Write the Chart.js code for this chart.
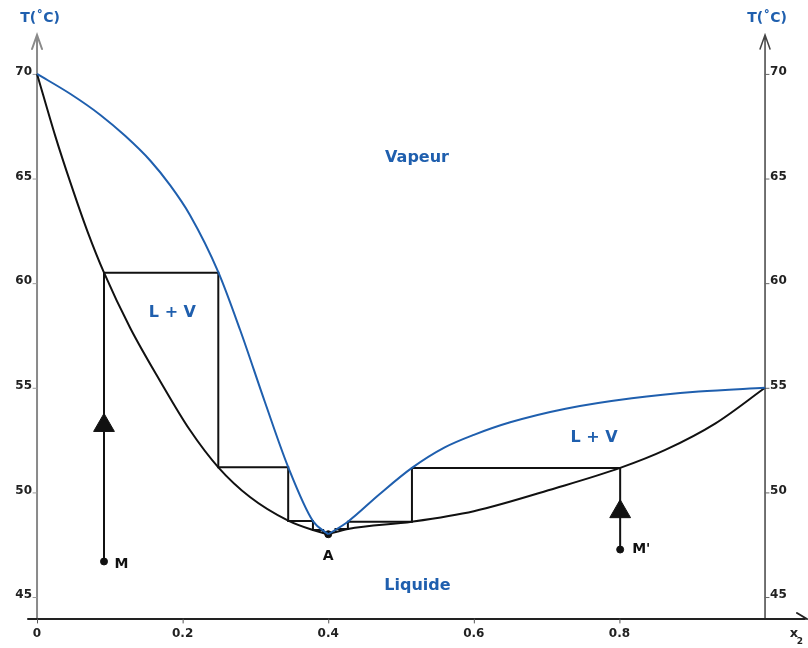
<!DOCTYPE html>
<html>
<head>
<meta charset="utf-8">
<script src="https://cdn.jsdelivr.net/npm/chart.js@4.4.0/dist/chart.umd.min.js"></script>
<style>
    body { margin: 0; background: #fff; overflow: hidden; }
    #wrap { width: 808px; height: 648px; }
    canvas { display: block; }
</style>
</head>
<body>
<div id="wrap"><canvas id="myChart" width="808" height="648"></canvas></div>
<script>
// curves: [x2, T]
const vapourLeft = [[0, 70], [0.046, 69.04], [0.087, 68.04], [0.121, 67.04], [0.156, 65.84], [0.183, 64.67], [0.21, 63.26], [0.249, 60.53], [0.279, 57.76], [0.313, 54.32], [0.345, 51.21], [0.379, 48.63], [0.4, 48]];
const vapourRight = [[0.4, 48], [0.427, 48.6], [0.47, 49.9], [0.515, 51.17], [0.56, 52.15], [0.6, 52.75], [0.65, 53.35], [0.726, 54.0], [0.817, 54.5], [0.909, 54.82], [1, 55]];
const liquidLeft = [[0, 70], [0.025, 67.04], [0.046, 64.79], [0.069, 62.5], [0.092, 60.5], [0.128, 57.86], [0.169, 55.33], [0.21, 52.98], [0.249, 51.2], [0.2925, 49.78], [0.345, 48.65], [0.379, 48.2], [0.4, 48]];
const liquidRight = [[0.4, 48], [0.427, 48.25], [0.515, 48.6], [0.6, 49.1], [0.712, 50.2], [0.801, 51.17], [0.863, 52.03], [0.932, 53.3], [1, 55]];

// distillation steps starting from M and M'
const stepsLeft = [[0.092, 46.7], [0.092, 60.5], [0.249, 60.5], [0.249, 51.2], [0.345, 51.2], [0.345, 48.63], [0.379, 48.63], [0.379, 48.2], [0.393, 48.2], [0.393, 48.05]];
const stepsRight = [[0.801, 47.27], [0.801, 51.17], [0.515, 51.17], [0.515, 48.6], [0.427, 48.6], [0.427, 48.25], [0.41, 48.25], [0.41, 48.08]];

const dots = [[0.092, 46.7], [0.801, 47.27], [0.4, 48]];
const arrows = [[0.092, 53.2], [0.801, 49.08]];

const xTicks = [0, 0.2, 0.4, 0.6, 0.8];
const yTicks = [45, 50, 55, 60, 65, 70];

const blue = '#1f5fae';

function pts(arr) {
    return arr.map(p => ({ x: p[0], y: p[1] }));
}

function curve(arr, color) {
    return {
        data: pts(arr),
        showLine: true,
        borderColor: color,
        borderWidth: 2,
        pointRadius: 0,
        cubicInterpolationMode: 'monotone'
    };
}

function steps(arr) {
    return {
        data: pts(arr),
        showLine: true,
        borderColor: '#111',
        borderWidth: 2,
        pointRadius: 0,
        tension: 0
    };
}

function text(ctx, str, x, y, font, color, align) {
    ctx.font = font;
    ctx.fillStyle = color;
    ctx.textAlign = align || 'center';
    ctx.textBaseline = 'middle';
    ctx.fillText(str, x, y);
}

const axesPlugin = {
    id: 'axes',
    beforeDatasetsDraw(chart) {
        const ctx = chart.ctx;
        const xs = chart.scales.x;
        const ys = chart.scales.y;
        const area = chart.chartArea;
        const x0 = xs.getPixelForValue(0);
        const x1 = xs.getPixelForValue(1);
        const yb = area.bottom;

        ctx.save();
        ctx.lineCap = 'round';

        // left axis (grey)
        ctx.strokeStyle = '#8a8a8a';
        ctx.lineWidth = 2;
        ctx.beginPath();
        ctx.moveTo(x0, yb);
        ctx.lineTo(x0, area.top);
        ctx.moveTo(x0 - 5, area.top + 14);
        ctx.lineTo(x0, area.top);
        ctx.lineTo(x0 + 5, area.top + 14);
        ctx.stroke();

        // right axis
        ctx.strokeStyle = '#444';
        ctx.lineWidth = 1.5;
        ctx.beginPath();
        ctx.moveTo(x1, yb);
        ctx.lineTo(x1, area.top);
        ctx.moveTo(x1 - 5, area.top + 14);
        ctx.lineTo(x1, area.top);
        ctx.lineTo(x1 + 5, area.top + 14);
        ctx.stroke();

        // x axis
        ctx.strokeStyle = '#222';
        ctx.lineWidth = 2;
        ctx.beginPath();
        ctx.moveTo(area.left, yb);
        ctx.lineTo(area.right, yb);
        ctx.moveTo(area.right - 8, yb - 6);
        ctx.lineTo(area.right + 2, yb);
        ctx.stroke();

        // y ticks and labels
        ctx.lineWidth = 1;
        yTicks.forEach(v => {
            const py = ys.getPixelForValue(v);
            ctx.strokeStyle = '#999';
            ctx.beginPath();
            ctx.moveTo(x0 - 4, py + 0.5);
            ctx.lineTo(x0, py + 0.5);
            ctx.stroke();
            ctx.strokeStyle = '#666';
            ctx.beginPath();
            ctx.moveTo(x1, py + 0.5);
            ctx.lineTo(x1 + 4, py + 0.5);
            ctx.stroke();
            text(ctx, String(v), x0 - 5, py - 2, 'bold 12px "DejaVu Sans"', '#222', 'right');
            text(ctx, String(v), x1 + 5, py - 2, 'bold 12px "DejaVu Sans"', '#222', 'left');
        });

        // x ticks and labels
        xTicks.forEach(v => {
            const px = xs.getPixelForValue(v);
            ctx.strokeStyle = '#555';
            ctx.beginPath();
            ctx.moveTo(px + 0.5, yb);
            ctx.lineTo(px + 0.5, yb + 4);
            ctx.stroke();
            text(ctx, String(v), px, yb + 15, 'bold 12px "DejaVu Sans"', '#222');
        });
        ctx.restore();
    },
    afterDraw(chart) {
        const ctx = chart.ctx;
        const xs = chart.scales.x;
        const ys = chart.scales.y;
        ctx.save();
        const x0 = xs.getPixelForValue(0);
        const x1 = xs.getPixelForValue(1);
        text(ctx, 'T(˚C)', x0 + 3, 18, 'bold 14px "DejaVu Sans"', blue);
        text(ctx, 'T(˚C)', x1 + 2, 18, 'bold 14px "DejaVu Sans"', blue);

        text(ctx, 'Vapeur', xs.getPixelForValue(0.522), ys.getPixelForValue(66.0), 'bold 16px "DejaVu Sans"', blue);
        text(ctx, 'L + V', xs.getPixelForValue(0.186), ys.getPixelForValue(58.6), 'bold 16px "DejaVu Sans"', blue);
        text(ctx, 'L + V', xs.getPixelForValue(0.765), ys.getPixelForValue(52.62), 'bold 16px "DejaVu Sans"', blue);
        text(ctx, 'Liquide', xs.getPixelForValue(0.5226), ys.getPixelForValue(45.53), 'bold 16px "DejaVu Sans"', blue);

        text(ctx, 'A', xs.getPixelForValue(0.4), ys.getPixelForValue(46.95), 'bold 14px "DejaVu Sans"', '#111');
        text(ctx, 'M', xs.getPixelForValue(0.116), ys.getPixelForValue(46.55), 'bold 14px "DejaVu Sans"', '#111');
        text(ctx, "M'", xs.getPixelForValue(0.83), ys.getPixelForValue(47.3), 'bold 14px "DejaVu Sans"', '#111');

        text(ctx, 'x', 794, 634, 'bold 13px "DejaVu Sans"', '#222');
        text(ctx, '2', 800, 642, 'bold 9px "DejaVu Sans"', '#222');
        ctx.restore();
    }
};

const ctx = document.getElementById('myChart').getContext('2d');
const myChart = new Chart(ctx, {
    type: 'scatter',
    data: {
        datasets: [
            curve(vapourLeft, blue),
            curve(vapourRight, blue),
            curve(liquidLeft, '#111'),
            curve(liquidRight, '#111'),
            steps(stepsLeft),
            steps(stepsRight),
            {
                data: pts(dots),
                pointRadius: 3.5,
                pointBackgroundColor: '#111',
                pointBorderColor: '#111'
            },
            {
                data: pts(arrows),
                pointStyle: 'triangle',
                pointRadius: 12,
                pointBackgroundColor: '#111',
                pointBorderColor: '#111',
                pointBorderWidth: 1
            }
        ]
    },
    options: {
        responsive: false,
        animation: false,
        layout: {
            autoPadding: false,
            padding: { left: 28, right: 3, top: 35, bottom: 29 }
        },
        plugins: {
            legend: { display: false },
            tooltip: { enabled: false }
        },
        scales: {
            x: {
                type: 'linear',
                display: false,
                min: -0.0124,
                max: 1.0549
            },
            y: {
                type: 'linear',
                display: false,
                min: 43.95,
                max: 71.86
            }
        }
    },
    plugins: [axesPlugin]
});
</script>
</body>
</html>
